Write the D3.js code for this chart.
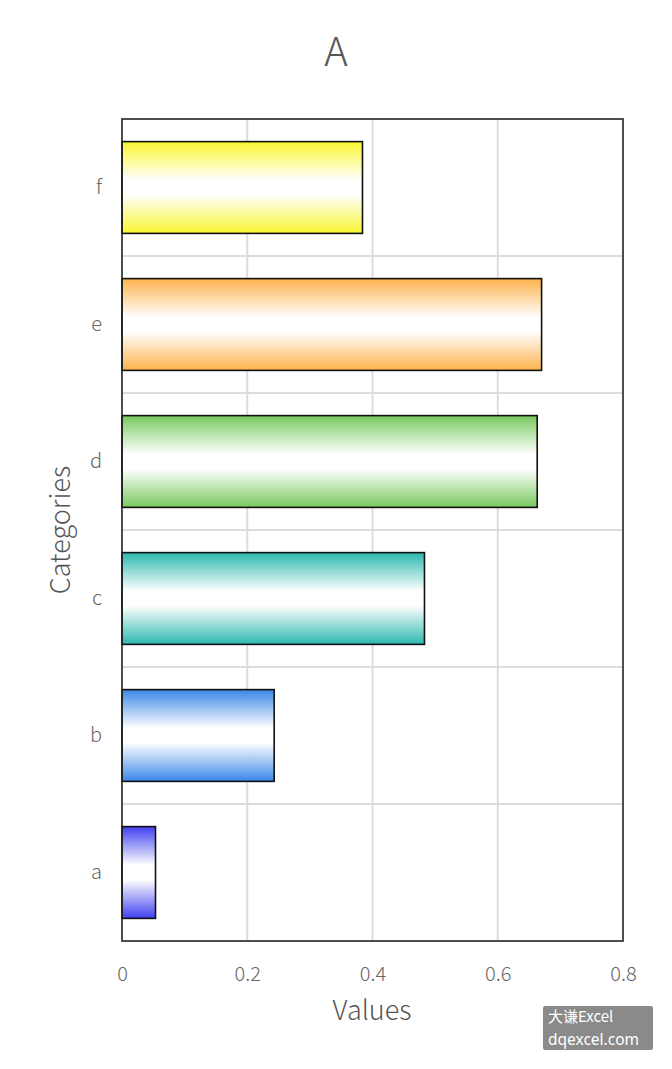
<!DOCTYPE html>
<html><head><meta charset="utf-8">
<script src="https://cdn.jsdelivr.net/npm/d3@7"></script>
<style>body{margin:0;background:#fff}svg{display:block}</style>
</head><body>
<script>
const categories = ["a","b","c","d","e","f"];
const values = [0.0535, 0.243, 0.483, 0.663, 0.670, 0.384];
const barColors = ["#4040f0","#3a86e8","#2bb8ae","#78c95e","#fdb24c","#f9f630"];
const xTicks = [0, 0.2, 0.4, 0.6, 0.8];
const xTickLabels = ["0","0.2","0.4","0.6","0.8"];

const W = 672, H = 1069;
const m = {left:122, right:623, top:119, bottom:941};
const font = "'Noto Sans CJK SC','Noto Sans',sans-serif";
const svg = d3.select("body").append("svg").attr("width",W).attr("height",H);
const defs = svg.append("defs");

const x = d3.scaleLinear().domain([0,0.8]).range([m.left,m.right]);
const y = d3.scaleBand().domain(categories.slice().reverse()).range([m.top,m.bottom]).paddingInner(0.33).paddingOuter(0.165);
const yb = d3.scaleBand().domain(categories.slice().reverse()).range([m.top,m.bottom]);

// grid
svg.append("g").selectAll("line").data(xTicks.slice(1,-1)).join("line")
  .attr("x1",d=>x(d)).attr("x2",d=>x(d)).attr("y1",m.top).attr("y2",m.bottom)
  .attr("stroke","#dcdcdc").attr("stroke-width",2);
svg.append("g").selectAll("line").data(categories.slice(1)).join("line")
  .attr("x1",m.left).attr("x2",m.right).attr("y1",d=>yb(d)+yb.bandwidth()).attr("y2",d=>yb(d)+yb.bandwidth())
  .attr("stroke","#dcdcdc").attr("stroke-width",2);

// gradients
categories.forEach((c,i)=>{
  const g = defs.append("linearGradient").attr("id","g"+i).attr("x1",0).attr("x2",0).attr("y1",0).attr("y2",1);
  g.append("stop").attr("offset","0%").attr("stop-color",barColors[i]);
  g.append("stop").attr("offset","42%").attr("stop-color","#ffffff");
  g.append("stop").attr("offset","58%").attr("stop-color","#ffffff");
  g.append("stop").attr("offset","100%").attr("stop-color",barColors[i]);
});

svg.append("g").selectAll("rect").data(categories).join("rect")
  .attr("x",x(0)).attr("y",d=>y(d))
  .attr("width",(d,i)=>x(values[i])-x(0)).attr("height",y.bandwidth())
  .attr("fill",(d,i)=>"url(#g"+i+")").attr("stroke","#111").attr("stroke-width",1.6);

// frame
svg.append("rect").attr("x",m.left).attr("y",m.top).attr("width",m.right-m.left).attr("height",m.bottom-m.top)
  .attr("fill","none").attr("stroke","#222").attr("stroke-width",1.6);

// axes
const xa = svg.append("g").attr("transform",`translate(0,${m.bottom})`)
  .call(d3.axisBottom(x).tickValues(xTicks).tickFormat((d,i)=>xTickLabels[i]).tickSize(0).tickPadding(26));
xa.select(".domain").remove();
xa.selectAll("text").attr("font-family",font).attr("font-size",20).attr("fill","#666").attr("font-weight",300);

const ya = svg.append("g").attr("transform",`translate(${m.left},0)`)
  .call(d3.axisLeft(y).tickSize(0).tickPadding(20));
ya.select(".domain").remove();
ya.selectAll("text").attr("font-family",font).attr("font-size",20).attr("fill","#666").attr("font-weight",300);

svg.append("text").attr("x",336).attr("y",66).attr("text-anchor","middle")
  .attr("font-family",font).attr("font-size",40).attr("fill","#555").attr("font-weight",300).text("A");
svg.append("text").attr("x",372).attr("y",1020).attr("text-anchor","middle")
  .attr("font-family",font).attr("font-size",27).attr("fill","#555").attr("font-weight",300).text("Values");
svg.append("text").attr("transform","translate(70,530) rotate(-90)").attr("text-anchor","middle")
  .attr("font-family",font).attr("font-size",27).attr("fill","#555").attr("font-weight",300).text("Categories");

// watermark
svg.append("rect").attr("x",543).attr("y",1006).attr("width",110).attr("height",44).attr("rx",2).attr("fill","#8a8a8a");
svg.append("text").attr("x",548).attr("y",1022).attr("font-family",font).attr("font-size",15).attr("fill","#fff").text("大谦Excel");
svg.append("text").attr("x",548).attr("y",1045).attr("font-family","'Noto Sans',sans-serif").attr("font-size",15.5).attr("fill","#fff").text("dqexcel.com");
</script>
</body></html>
